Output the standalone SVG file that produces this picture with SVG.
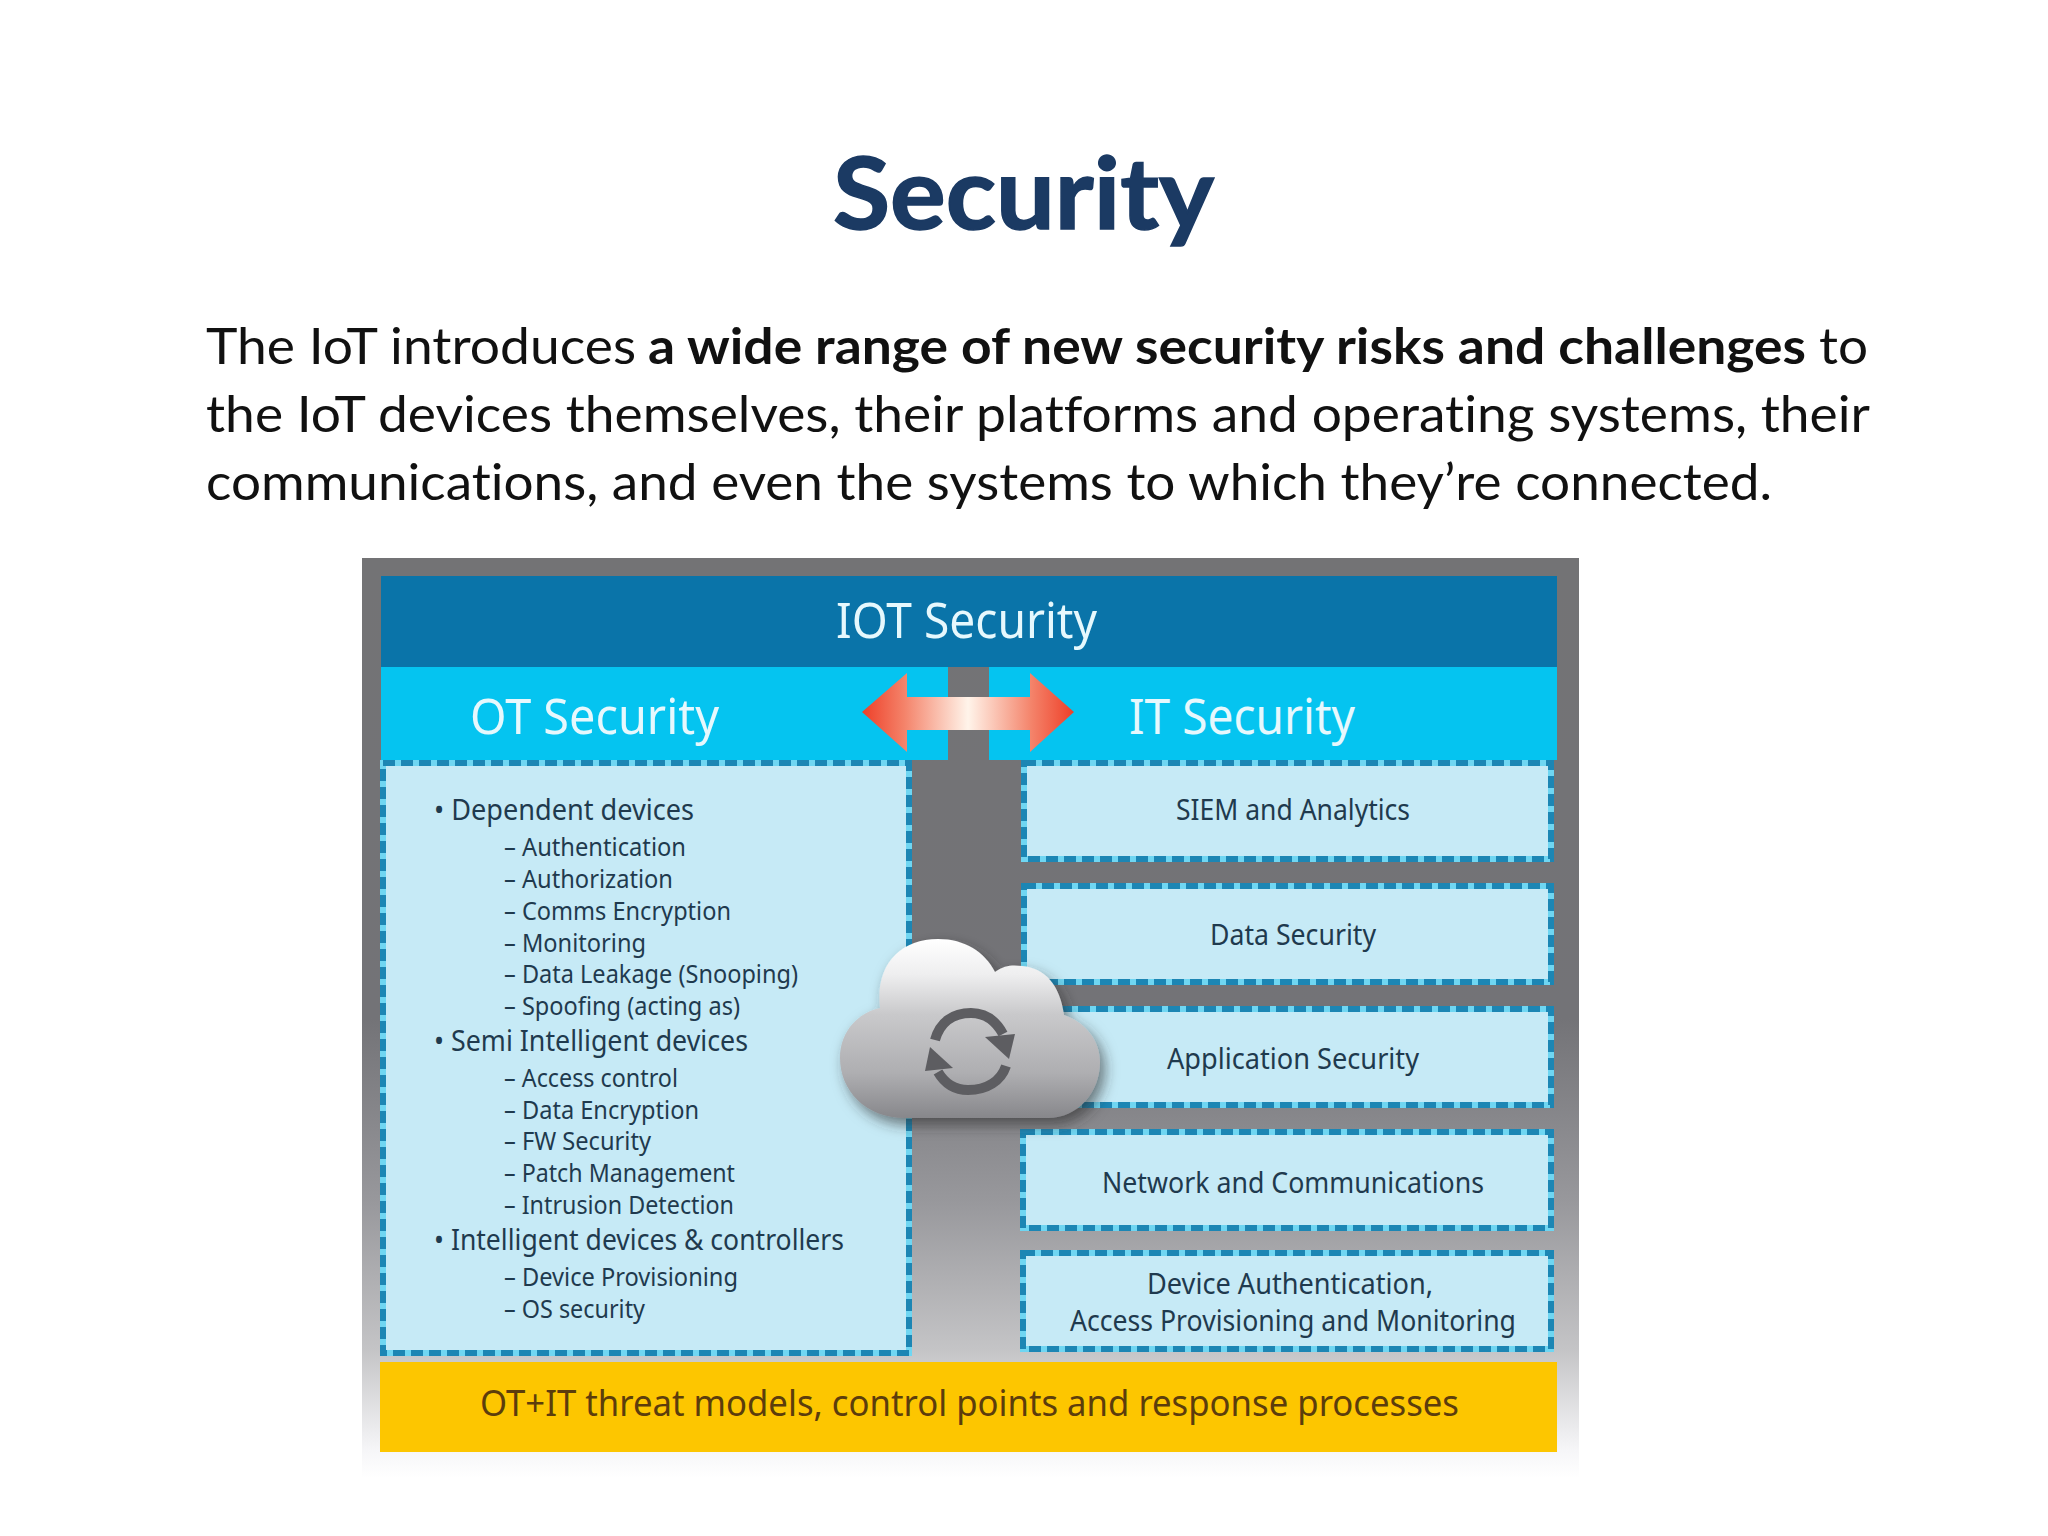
<svg xmlns="http://www.w3.org/2000/svg" width="2048" height="1536" viewBox="0 0 2048 1536">
<style>
text{font-variant-ligatures:none}
.body{font-family:"Lato","Liberation Sans",sans-serif;font-size:50px;fill:#111}
.b{font-weight:700}
.title{font-family:"Lato","Liberation Sans",sans-serif;font-size:100px;font-weight:700;fill:#1b3a63;stroke:#1b3a63;stroke-width:1.5}
.t{font-family:"Noto Sans","Open Sans",sans-serif;fill:#1f3a4e}
.h{font-size:50px;fill:#e6f8fd}
.l1{font-size:29px}
.l2{font-size:25px}
.r{font-size:29px}
.panel{fill:#c6eaf6}
.edge{fill:none;stroke:#6fd6f2;stroke-width:6}
.dash{fill:none;stroke:#1c86b4;stroke-width:6;stroke-dasharray:12 6}
</style>
<defs>
<linearGradient id="bg" x1="0" y1="558" x2="0" y2="1478" gradientUnits="userSpaceOnUse">
<stop offset="0" stop-color="#737375"/><stop offset="0.5" stop-color="#737377"/><stop offset="0.7" stop-color="#98989c"/><stop offset="0.86" stop-color="#c4c4c6"/><stop offset="0.97" stop-color="#f6f6f8"/><stop offset="1" stop-color="#ffffff"/>
</linearGradient>
<linearGradient id="arrow" x1="862" y1="0" x2="1074" y2="0" gradientUnits="userSpaceOnUse">
<stop offset="0" stop-color="#ee3f28"/><stop offset="0.2" stop-color="#f4836a"/><stop offset="0.5" stop-color="#fff4ea"/><stop offset="0.8" stop-color="#f4836a"/><stop offset="1" stop-color="#ee3f28"/>
</linearGradient>
<linearGradient id="cloud" x1="0" y1="939" x2="0" y2="1118" gradientUnits="userSpaceOnUse">
<stop offset="0" stop-color="#ffffff"/><stop offset="0.2" stop-color="#eeeeef"/><stop offset="0.42" stop-color="#c9c9cb"/><stop offset="0.75" stop-color="#aeaeb1"/><stop offset="1" stop-color="#87878b"/>
</linearGradient>
<filter id="shadow" x="-20%" y="-20%" width="140%" height="140%">
<feDropShadow dx="5" dy="7" stdDeviation="7" flood-color="#2a2a2a" flood-opacity="0.6"/>
</filter>
</defs>
<rect width="2048" height="1536" fill="#ffffff"/>
<g id="title"><text class="title" x="833" y="229" textLength="381" lengthAdjust="spacingAndGlyphs">Security</text></g>
<g id="intro">
<text class="body" y="364"><tspan x="206" textLength="430" lengthAdjust="spacingAndGlyphs">The IoT introduces</tspan><tspan> </tspan><tspan class="b" x="648" textLength="1158" lengthAdjust="spacingAndGlyphs">a wide range of new security risks and challenges</tspan><tspan> </tspan><tspan x="1819" textLength="49" lengthAdjust="spacingAndGlyphs">to</tspan></text>
<text class="body" x="206" y="432" textLength="1664" lengthAdjust="spacingAndGlyphs">the IoT devices themselves, their platforms and operating systems, their</text>
<text class="body" x="206" y="500" textLength="1566" lengthAdjust="spacingAndGlyphs">communications, and even the systems to which they’re connected.</text>
</g>
<g id="frame"><rect x="362" y="558" width="1217" height="920" fill="url(#bg)"/></g>
<g id="iot-header"><rect x="381" y="576" width="1176" height="91" fill="#0a74a9"/>
<text class="t h" x="836" y="638" textLength="261" lengthAdjust="spacingAndGlyphs">IOT Security</text></g>
<g id="ot-header"><rect x="381" y="667" width="567" height="93" fill="#05c4f0"/>
<text class="t h" x="470" y="734" textLength="249" lengthAdjust="spacingAndGlyphs">OT Security</text></g>
<g id="it-header"><rect x="989" y="667" width="568" height="93" fill="#05c4f0"/>
<text class="t h" x="1129" y="734" textLength="226" lengthAdjust="spacingAndGlyphs">IT Security</text></g>
<g id="ot-panel">
<rect class="panel" x="383" y="763" width="526" height="590"/>
<rect class="edge" x="383" y="763" width="526" height="590"/><rect class="dash" x="383" y="763" width="526" height="590"/>
<text class="t l1" x="434" y="820" textLength="260" lengthAdjust="spacingAndGlyphs">• Dependent devices</text>
<text class="t l2" x="504" y="856" textLength="182" lengthAdjust="spacingAndGlyphs">– Authentication</text>
<text class="t l2" x="504" y="888" textLength="169" lengthAdjust="spacingAndGlyphs">– Authorization</text>
<text class="t l2" x="504" y="920" textLength="227" lengthAdjust="spacingAndGlyphs">– Comms Encryption</text>
<text class="t l2" x="504" y="952" textLength="142" lengthAdjust="spacingAndGlyphs">– Monitoring</text>
<text class="t l2" x="504" y="983" textLength="294" lengthAdjust="spacingAndGlyphs">– Data Leakage (Snooping)</text>
<text class="t l2" x="504" y="1015" textLength="236" lengthAdjust="spacingAndGlyphs">– Spoofing (acting as)</text>
<text class="t l1" x="434" y="1051" textLength="314" lengthAdjust="spacingAndGlyphs">• Semi Intelligent devices</text>
<text class="t l2" x="504" y="1087" textLength="174" lengthAdjust="spacingAndGlyphs">– Access control</text>
<text class="t l2" x="504" y="1119" textLength="195" lengthAdjust="spacingAndGlyphs">– Data Encryption</text>
<text class="t l2" x="504" y="1150" textLength="147" lengthAdjust="spacingAndGlyphs">– FW Security</text>
<text class="t l2" x="504" y="1182" textLength="231" lengthAdjust="spacingAndGlyphs">– Patch Management</text>
<text class="t l2" x="504" y="1214" textLength="230" lengthAdjust="spacingAndGlyphs">– Intrusion Detection</text>
<text class="t l1" x="434" y="1250" textLength="410" lengthAdjust="spacingAndGlyphs">• Intelligent devices &amp; controllers</text>
<text class="t l2" x="504" y="1286" textLength="234" lengthAdjust="spacingAndGlyphs">– Device Provisioning</text>
<text class="t l2" x="504" y="1318" textLength="141" lengthAdjust="spacingAndGlyphs">– OS security</text>
</g>
<g id="siem"><rect class="panel" x="1024" y="763" width="527" height="96"/><rect class="edge" x="1024" y="763" width="527" height="96"/><rect class="dash" x="1024" y="763" width="527" height="96"/>
<text class="t r" x="1176" y="820" textLength="234" lengthAdjust="spacingAndGlyphs">SIEM and Analytics</text></g>
<g id="data-security"><rect class="panel" x="1024" y="886" width="527" height="96"/><rect class="edge" x="1024" y="886" width="527" height="96"/><rect class="dash" x="1024" y="886" width="527" height="96"/>
<text class="t r" x="1210" y="945" textLength="166" lengthAdjust="spacingAndGlyphs">Data Security</text></g>
<g id="application-security"><rect class="panel" x="1024" y="1009" width="527" height="96"/><rect class="edge" x="1024" y="1009" width="527" height="96"/><rect class="dash" x="1024" y="1009" width="527" height="96"/>
<text class="t r" x="1167" y="1069" textLength="252" lengthAdjust="spacingAndGlyphs">Application Security</text></g>
<g id="network"><rect class="panel" x="1023" y="1132" width="528" height="96"/><rect class="edge" x="1023" y="1132" width="528" height="96"/><rect class="dash" x="1023" y="1132" width="528" height="96"/>
<text class="t r" x="1102" y="1193" textLength="382" lengthAdjust="spacingAndGlyphs">Network and Communications</text></g>
<g id="device-auth"><rect class="panel" x="1023" y="1253" width="528" height="96"/><rect class="edge" x="1023" y="1253" width="528" height="96"/><rect class="dash" x="1023" y="1253" width="528" height="96"/>
<text class="t r" x="1147" y="1294" textLength="286" lengthAdjust="spacingAndGlyphs">Device Authentication,</text>
<text class="t r" x="1070" y="1331" textLength="446" lengthAdjust="spacingAndGlyphs">Access Provisioning and Monitoring</text></g>
<g id="threat-models"><rect x="380" y="1362" width="1177" height="90" fill="#fdc600"/>
<text class="t" x="480" y="1416" font-size="36" style="fill:#5c3d0c" textLength="979" lengthAdjust="spacingAndGlyphs">OT+IT threat models, control points and response processes</text></g>
<g id="connectors"><path d="M862 712L907 673V697H1030V673L1074 712L1030 752V730H907V752Z" fill="url(#arrow)"/></g>
<g id="cloud-node">
<path d="M905 1118C865 1118 840 1090 840 1058C840 1030 860 1012 880 1008C875 965 900 939 938 939C965 939 985 952 995 972C1005 965 1012 965 1022 966C1045 968 1060 985 1064 1015C1085 1022 1100 1040 1100 1062C1100 1092 1078 1118 1048 1118Z" fill="url(#cloud)" filter="url(#shadow)"/>
<path d="M935 1040C940 1022 953 1013 971 1013C985 1013 996 1021 1003 1034" fill="none" stroke="#5d5d61" stroke-width="10"/>
<path d="M985 1037L1015 1034L1009 1059Z" fill="#5d5d61"/>
<path d="M1006 1066C1001 1081 987 1090 968 1090C955 1090 945 1084 938 1072" fill="none" stroke="#5d5d61" stroke-width="10"/>
<path d="M953 1068L925 1071L930 1047Z" fill="#5d5d61"/>
</g>
</svg>
